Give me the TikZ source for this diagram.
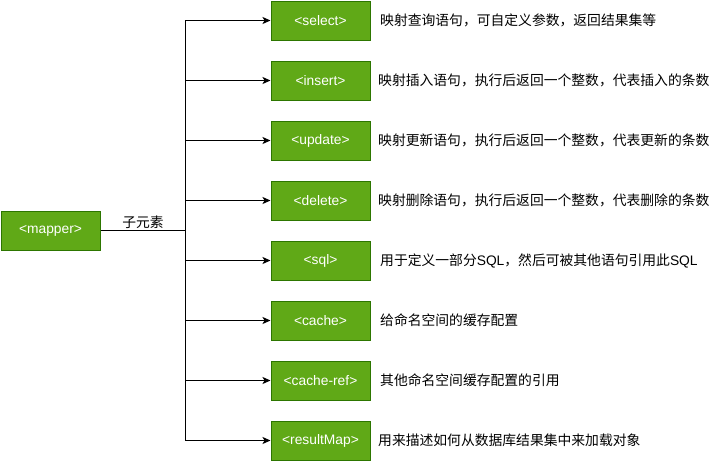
\documentclass[tikz,border=0pt]{standalone}
\usepackage{fontspec}
\setmainfont{Liberation Sans}
\newfontfamily\cjk{Noto Sans CJK SC}
\usetikzlibrary{arrows.meta}
\definecolor{boxfill}{HTML}{60A917}
\definecolor{boxline}{HTML}{2D7600}
\tikzset{
  greenbox/.style={rectangle, draw=boxline, fill=boxfill, line width=1pt,
    minimum width=99pt, minimum height=39pt, inner sep=0pt, text=white,
    font=\fontsize{13.8}{16}\selectfont},
  desc/.style={anchor=west, inner sep=0pt, text=black,
    font=\fontsize{13.8}{16}\selectfont},
  conn/.style={line width=1pt, draw=black},
  arrowconn/.style={conn, -{Stealth[length=8pt,width=7pt,inset=2pt]}},
}
\begin{document}
\begin{tikzpicture}[x=1pt,y=-1pt]
\useasboundingbox (0,0) rectangle (721,461);
\node[greenbox] (mapper) at (50.5,230.5) {<mapper>};
\node[greenbox] (select) at (320.5,20.5) {<select>};
\node[greenbox] (insert) at (320.5,80.5) {<insert>};
\node[greenbox] (update) at (320.5,140.5) {<update>};
\node[greenbox] (delete) at (320.5,200.5) {<delete>};
\node[greenbox] (sql) at (320.5,260.5) {<sql>};
\node[greenbox] (cache) at (320.5,320.5) {<cache>};
\node[greenbox] (cacheref) at (320.5,380.5) {<cache-ref>};
\node[greenbox] (resultmap) at (320.5,440.5) {<resultMap>};
\coordinate (junction) at (185.5,230.5);
\draw[conn] (mapper.east) -- node[above=1pt, inner sep=0pt, font=\fontsize{13.8}{16}\selectfont\cjk] (sublabel) {子元素} (junction);
\foreach \n in {select,insert,update,delete,sql,cache,cacheref,resultmap}{
  \draw[arrowconn] (junction) |- (\n.west);
}
\node[desc] (dselect) at (380,20.5) {\cjk 映射查询语句，可自定义参数，返回结果集等};
\node[desc] (dinsert) at (378,80.5) {\cjk 映射插入语句，执行后返回一个整数，代表插入的条数};
\node[desc] (dupdate) at (378,140.5) {\cjk 映射更新语句，执行后返回一个整数，代表更新的条数};
\node[desc] (ddelete) at (378,200.5) {\cjk 映射删除语句，执行后返回一个整数，代表删除的条数};
\node[desc] (dsql) at (380,260.5) {{\cjk 用于定义一部分}SQL{\cjk ，然后可被其他语句引用此}SQL};
\node[desc] (dcache) at (380,320.5) {\cjk 给命名空间的缓存配置};
\node[desc] (dcacheref) at (380,380.5) {\cjk 其他命名空间缓存配置的引用};
\node[desc] (dresultmap) at (378,440.5) {\cjk 用来描述如何从数据库结果集中来加载对象};
\end{tikzpicture}
\end{document}
